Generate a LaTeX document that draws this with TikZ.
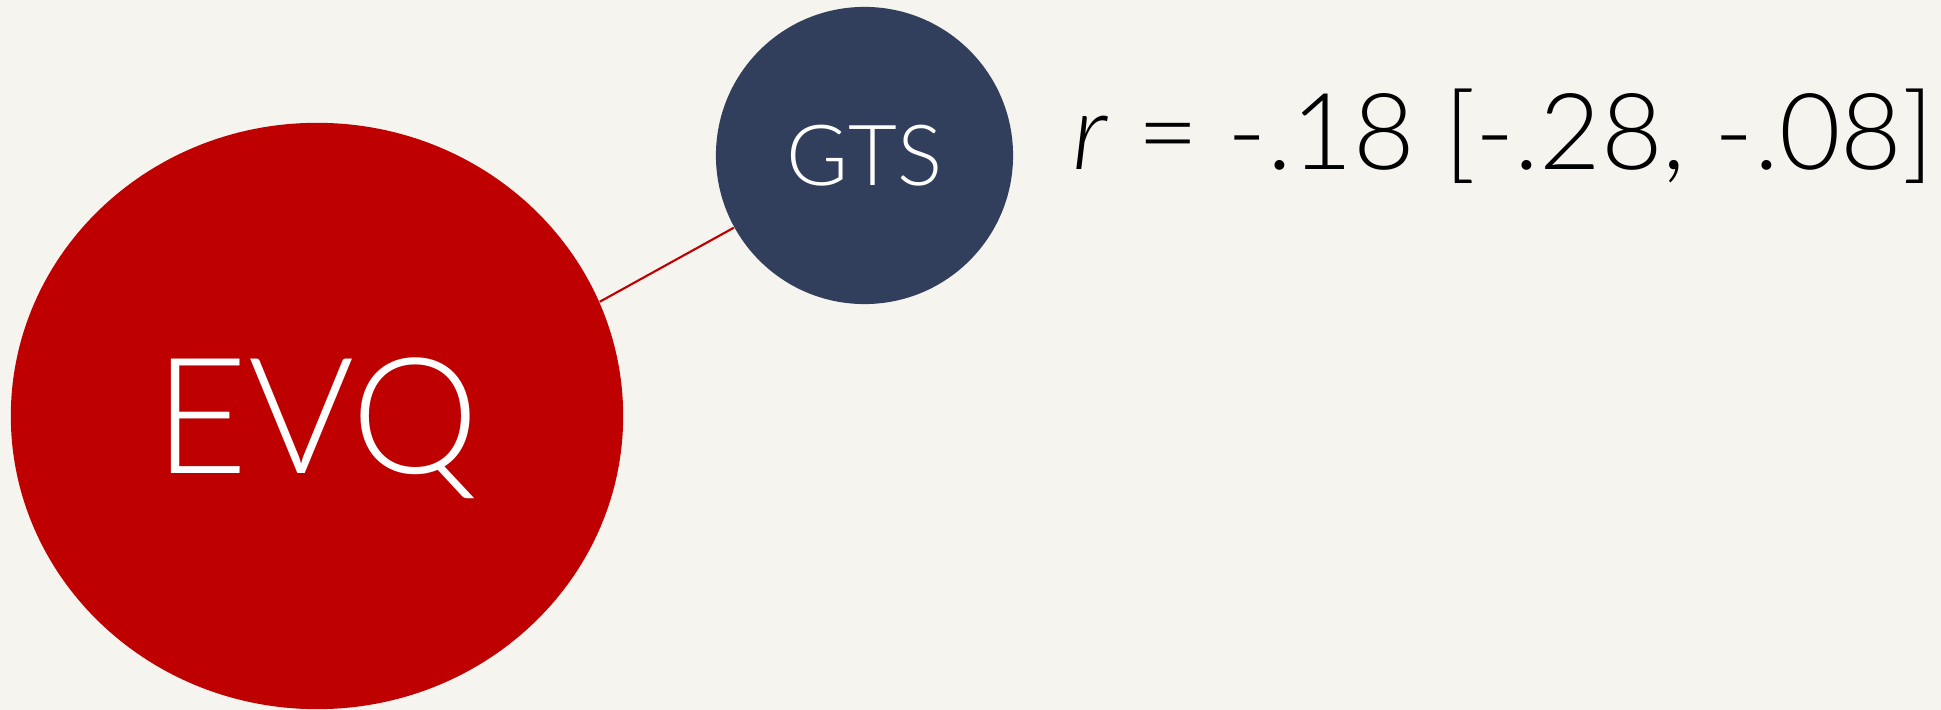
\documentclass[tikz,border=0pt]{standalone}
\usepackage{fontspec}
\setmainfont{Lato Light}
\usetikzlibrary{shapes.geometric}

\definecolor{paper}{HTML}{F5F4EF}
\definecolor{evqred}{HTML}{BE0000}
\definecolor{gtsblue}{HTML}{323F5C}

\begin{document}
\begin{tikzpicture}[x=0.01cm, y=-0.01cm,
    bignode/.style={ellipse, fill=evqred, text=white, inner sep=0pt, text depth=0pt,
        minimum width=6.12cm, minimum height=5.86cm, font=\fontsize{46}{55}\selectfont},
    smallnode/.style={circle, fill=gtsblue, text=white, inner sep=0pt, text depth=0pt,
        minimum size=2.97cm, font=\fontsize{24}{29}\selectfont}]
    \fill[paper] (0,0) rectangle (1941,710);
    \useasboundingbox (0,0) rectangle (1941,710);
    \node (evq) [bignode] at (317,416) {EVQ};
    \node (gts) [smallnode] at (864.5,155.5) {GTS};
    \node (corr) [anchor=base west, inner sep=0pt, font=\fontsize{30.2}{36}\selectfont]
        at (1072,170) {\textit{r} = -.18 [-.28, -.08]};
    \draw[evqred, line width=0.6pt] (evq.22) -- (gts);
\end{tikzpicture}
\end{document}
